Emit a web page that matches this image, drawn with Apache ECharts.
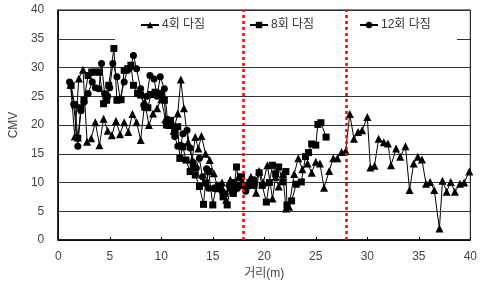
<!DOCTYPE html>
<html>
<head>
<meta charset="utf-8">
<script src="https://cdn.jsdelivr.net/npm/echarts@6/dist/echarts.min.js"></script>
<style>
  html, body { margin: 0; padding: 0; background: #fff; }
  #chartLineBox { width: 480px; height: 287px; }
</style>
</head>
<body>
<div id="chartLineBox"></div>
<script>
// 다짐 횟수별 CMV (거리 m)
var dist4 = [1.2, 1.6, 2.0, 2.4, 2.8, 3.2, 3.6, 4.0, 4.4, 4.8, 5.2, 5.6, 6.0, 6.4, 6.8, 7.2, 7.6, 8.0, 8.4, 8.8,
  9.2, 9.6, 10.0, 10.4, 10.8, 11.2, 11.6, 11.9, 12.2, 12.6, 13.0, 13.3, 13.6, 13.9, 14.3, 14.7, 15.1, 15.5, 15.9, 16.3,
  16.7, 17.1, 17.5, 17.9, 18.3, 18.7, 19.2, 19.5, 19.9, 20.3, 20.8, 21.1, 21.4, 21.8, 22.1, 22.4, 22.9, 23.3, 23.7, 24.2,
  24.6, 25.0, 25.4, 25.8, 26.3, 26.7, 27.1, 27.5, 27.9, 28.3, 28.7, 29.1, 29.5, 30.0, 30.3, 30.7, 31.1, 31.6, 32.0, 32.3,
  32.8, 33.2, 33.7, 34.1, 34.5, 34.9, 35.3, 35.7, 36.1, 36.5, 37.0, 37.3, 37.7, 38.1, 38.5, 39.0, 39.4, 39.9];
var cmv4 = [27.0, 18.0, 28.1, 29.6, 17.1, 17.7, 20.5, 16.5, 21.1, 19.0, 18.2, 20.7, 18.4, 20.5, 18.8, 21.9, 20.5, 17.4, 24.0, 20.0,
  22.0, 22.9, 24.5, 21.0, 20.0, 19.0, 22.0, 27.9, 22.9, 17.0, 14.0, 17.9, 15.9, 18.1, 15.0, 13.9, 11.6, 9.0, 10.0, 7.0,
  10.5, 9.0, 11.0, 10.0, 9.5, 11.0, 8.2, 12.0, 10.0, 13.0, 7.2, 11.0, 9.3, 11.5, 5.5, 5.8, 11.5, 14.2, 12.3, 13.3,
  11.7, 13.6, 13.3, 9.1, 12.0, 14.2, 14.2, 15.3, 15.5, 21.9, 17.6, 18.8, 19.1, 21.4, 12.6, 12.9, 17.6, 17.0, 16.8, 13.0,
  15.9, 14.5, 16.3, 8.7, 13.3, 14.5, 14.0, 9.8, 10.1, 8.7, 2.0, 10.3, 8.4, 10.1, 8.4, 9.8, 10.0, 11.9];

var dist8 = [1.25, 1.6, 1.9, 2.2, 2.5, 2.9, 3.25, 3.6, 4.0, 4.4, 4.7, 4.9, 5.4, 5.7, 6.1, 6.4, 6.75, 7.05, 7.3, 7.7,
  8.0, 8.4, 8.7, 9.0, 9.4, 9.7, 10.0, 10.3, 10.5, 10.9, 11.3, 11.6, 11.8, 12.1, 12.4, 12.8, 13.1, 13.3, 13.7, 14.1,
  14.3, 14.6, 15.0, 15.3, 15.7, 16.0, 16.4, 16.7, 17.0, 17.3, 17.6, 17.8, 18.2, 18.6, 19.0, 19.5, 19.8, 20.2, 20.5, 20.8,
  21.1, 21.4, 21.8, 22.1, 22.2, 22.65, 23.1, 23.6, 24.0, 24.3, 24.6, 25.0, 25.2, 25.5, 26.0];
var cmv8 = [26.9, 23.5, 17.7, 23.0, 24.3, 28.6, 29.2, 29.2, 29.2, 23.7, 24.3, 26.9, 33.3, 24.3, 24.4, 29.5, 29.8, 30.4, 26.9, 25.5,
  25.2, 23.1, 23.0, 25.3, 25.7, 25.5, 25.2, 24.3, 20.0, 20.8, 19.1, 19.7, 14.2, 16.2, 13.9, 11.9, 12.6, 11.3, 9.3, 6.2,
  9.9, 11.9, 6.1, 9.0, 9.5, 7.5, 6.1, 9.0, 8.1, 12.7, 9.5, 11.0, 9.5, 10.0, 9.5, 11.7, 9.5, 6.6, 10.0, 13.0,
  11.5, 12.7, 10.1, 11.9, 6.1, 6.8, 9.7, 10.1, 14.5, 15.2, 16.7, 16.5, 20.1, 20.4, 17.9];

var dist12 = [1.1, 1.5, 1.9, 2.2, 2.5, 2.9, 3.3, 3.6, 3.95, 4.2, 4.5, 4.8, 5.0, 5.3, 5.7, 6.0, 6.4, 6.7, 7.05, 7.3,
  7.6, 8.0, 8.3, 8.6, 8.9, 9.3, 9.6, 9.9, 10.3, 10.6, 11.0, 11.3, 11.6, 11.9, 12.1, 12.5, 12.8, 13.1, 13.4, 13.7,
  14.0, 14.4, 14.6, 15.1, 15.5, 15.9, 16.2, 16.6, 17.0, 17.4, 17.8, 18.2, 18.6, 19.0];
var cmv12 = [27.5, 23.6, 16.3, 22.5, 24.0, 25.5, 27.5, 26.5, 26.3, 30.7, 25.5, 25.0, 26.5, 30.7, 28.4, 24.5, 27.5, 29.5, 30.1, 32.1,
  29.8, 26.3, 23.5, 25.0, 28.6, 28.0, 25.0, 28.4, 26.3, 21.0, 20.0, 18.0, 16.3, 16.5, 18.5, 19.1, 16.0, 13.5, 12.5, 14.2,
  11.0, 12.4, 9.0, 9.0, 9.5, 8.5, 8.0, 9.5, 10.0, 9.0, 9.5, 8.5, 9.5, 10.5];

var seriesNames = ["4회 다짐", "8회 다짐", "12회 다짐"];
var markDist = [18, 28];
var yTicks = [0, 5, 10, 15, 20, 25, 30, 35, 40];

function pairs(xs, ys) {
  var out = [];
  for (var i = 0; i < xs.length; i++) {
    out.push([xs[i], ys[i]]);
  }
  return out;
}

var font = "'Liberation Sans', 'Noto Sans CJK KR', sans-serif";
var legendLeft = [140, 249, 359];

var chartLine = echarts.init(document.getElementById("chartLineBox"));

var option = {
  animation: false,
  textStyle: { fontFamily: font },
  grid: { left: 55, right: 6, top: 10, bottom: 47, show: true, borderColor: "#000", borderWidth: 1 },
  // 범례 뒤 흰 바탕 (35 눈금선 가림)
  graphic: [{
    type: "rect",
    z: 1,
    shape: { x: 115, y: 11, width: 342, height: 31 },
    style: { fill: "#fff" }
  }],
  legend: seriesNames.map(function (n, i) {
    return {
      left: legendLeft[i],
      top: 19,
      padding: 0,
      itemWidth: 18,
      itemHeight: 8,
      itemGap: 0,
      textStyle: { fontSize: 12, color: "#333", fontFamily: font, padding: [0, 0, 0, -2] },
      data: [n]
    };
  }),
  xAxis: {
    type: "value",
    min: 0,
    max: 40,
    interval: 5,
    name: "거리(m)",
    nameLocation: "middle",
    nameGap: 28,
    nameTextStyle: { fontSize: 12, color: "#444" },
    axisLine: { lineStyle: { color: "#000", width: 1.5 } },
    axisTick: { inside: true, length: 3, lineStyle: { color: "#000" } },
    axisLabel: { fontSize: 12, color: "#444", margin: 11 },
    splitLine: { show: false }
  },
  yAxis: {
    type: "value",
    min: yTicks[0],
    max: yTicks[yTicks.length - 1],
    interval: 5,
    name: "CMV",
    nameLocation: "middle",
    nameGap: 33,
    nameTextStyle: { fontSize: 12, color: "#444" },
    axisLine: { show: true, lineStyle: { color: "#000", width: 1.5 } },
    axisTick: { show: false },
    axisLabel: { fontSize: 12, color: "#444", margin: 14 },
    splitLine: { lineStyle: { color: "#333", width: 1 } }
  },
  series: [
    {
      name: seriesNames[0],
      type: "line",
      data: pairs(dist4, cmv4),
      symbol: "triangle",
      symbolSize: 8,
      itemStyle: { color: "#000" },
      lineStyle: { color: "#000", width: 1 },
      markLine: {
        silent: true,
        symbol: "none",
        label: { show: false },
        lineStyle: { color: "#f00", type: [3, 3], width: 2.5 },
        data: markDist.map(function (d) { return { xAxis: d }; })
      }
    },
    {
      name: seriesNames[1],
      type: "line",
      data: pairs(dist8, cmv8),
      symbol: "rect",
      symbolSize: 7,
      itemStyle: { color: "#000" },
      lineStyle: { color: "#000", width: 1 }
    },
    {
      name: seriesNames[2],
      type: "line",
      data: pairs(dist12, cmv12),
      symbol: "circle",
      symbolSize: 7,
      itemStyle: { color: "#000" },
      lineStyle: { color: "#000", width: 1 }
    }
  ]
};

chartLine.setOption(option);
</script>
</body>
</html>
